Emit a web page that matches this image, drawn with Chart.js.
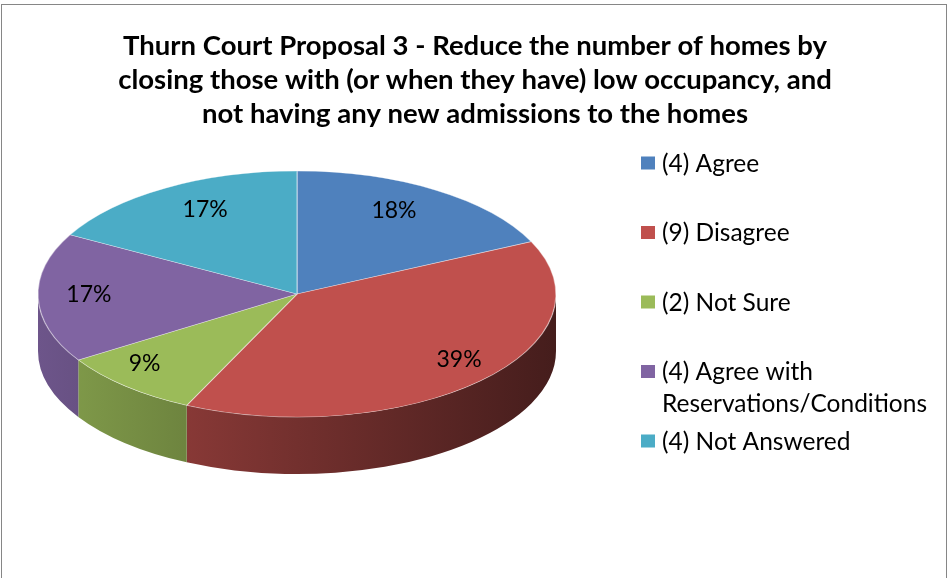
<!DOCTYPE html>
<html>
<head>
<meta charset="utf-8">
<title>Thurn Court Proposal 3</title>
<script src="https://cdn.jsdelivr.net/npm/chart.js@4.4.0/dist/chart.umd.min.js"></script>
<style>
  html, body { margin: 0; padding: 0; background: #fff; }
  #wrap { width: 950px; height: 578px; position: relative; }
</style>
</head>
<body>
<div id="wrap"><canvas id="pieChart"></canvas></div>
<script>
// Survey responses for proposal 3
const titleLines = [
  'Thurn Court Proposal 3 - Reduce the number of homes by',
  'closing those with (or when they have) low occupancy, and',
  'not having any new admissions to the homes'
];
const categories = ['Agree', 'Disagree', 'Not Sure', 'Agree with Reservations/Conditions', 'Not Answered'];
const counts = [4, 9, 2, 4, 4];
const percentages = [18, 39, 9, 17, 17];
const sliceColors = ['#4F81BD', '#C0504D', '#9BBB59', '#8064A2', '#4BACC6'];

const TILT = 0.475;      // how flat the pie top looks
const DEPTH = 57;        // thickness of the pie edge

function shade(hex, f) {
  const n = parseInt(hex.slice(1), 16);
  const r = Math.round(((n >> 16) & 255) * f);
  const g = Math.round(((n >> 8) & 255) * f);
  const b = Math.round((n & 255) * f);
  return 'rgb(' + r + ',' + g + ',' + b + ')';
}

// the pie top is an ellipse spanning opts.left..opts.right, hanging from the chart area top
function ellipseOf(chart, opts) {
  const rx = (opts.right - opts.left) / 2;
  const ry = rx * TILT;
  return { x: opts.left + rx, y: chart.chartArea.top + ry, rx: rx, ry: ry };
}

function wrapText(ctx, text, maxWidth) {
  const words = text.split(' ');
  const lines = [];
  let line = '';
  words.forEach(w => {
    const test = line ? line + ' ' + w : w;
    if (line && ctx.measureText(test).width > maxWidth) {
      lines.push(line);
      line = w;
    } else {
      line = test;
    }
  });
  lines.push(line);
  return lines;
}

// white background + grey frame round the whole chart
const frame = {
  id: 'frame',
  beforeDraw(chart) {
    const ctx = chart.ctx;
    ctx.save();
    ctx.fillStyle = '#fff';
    ctx.fillRect(0, 0, chart.width, chart.height);
    ctx.strokeStyle = '#868686';
    ctx.lineWidth = 1;
    ctx.strokeRect(1.5, 4.5, 945, chart.height + 20);
    ctx.restore();
  }
};

// fake 3D: draw the edge, then squash the round pie into an ellipse
const pie3d = {
  id: 'pie3d',
  beforeDatasetsDraw(chart, args, opts) {
    const ctx = chart.ctx;
    const e = ellipseOf(chart, opts);
    const arcs = chart.getDatasetMeta(0).data;

    // only the front half of the edge (angles 0..PI) is visible
    arcs.forEach((arc, i) => {
      const a0 = Math.max(arc.startAngle, 0);
      const a1 = Math.min(arc.endAngle, Math.PI);
      if (a1 <= a0) return;
      const grad = ctx.createLinearGradient(e.x - e.rx, 0, e.x + e.rx, 0);
      grad.addColorStop(0, shade(sliceColors[i], 0.85));
      grad.addColorStop(0.5, shade(sliceColors[i], 0.6));
      grad.addColorStop(1, shade(sliceColors[i], 0.36));
      ctx.beginPath();
      ctx.ellipse(e.x, e.y, e.rx, e.ry, 0, a0, a1);
      ctx.ellipse(e.x, e.y + DEPTH, e.rx, e.ry, 0, a1, a0, true);
      ctx.closePath();
      ctx.fillStyle = grad;
      ctx.fill();
    });

    const p = arcs[0];
    const r = p.outerRadius;
    ctx.save();
    ctx.translate(e.x, e.y);
    ctx.scale(e.rx / r, e.ry / r);
    ctx.translate(-p.x, -p.y);
  },
  afterDatasetsDraw(chart, args, opts) {
    const ctx = chart.ctx;
    ctx.restore();

    // percentage labels; front slices sit further out than the back ones
    const e = ellipseOf(chart, opts);
    const arcs = chart.getDatasetMeta(0).data;
    ctx.save();
    ctx.font = opts.labelFont;
    ctx.fillStyle = '#000';
    ctx.textAlign = 'center';
    ctx.textBaseline = 'middle';
    arcs.forEach((arc, i) => {
      const mid = (arc.startAngle + arc.endAngle) / 2;
      const fx = 0.8 + 0.12 * Math.sin(mid);
      const x = e.x + Math.cos(mid) * e.rx * fx;
      const y = e.y + Math.sin(mid) * e.ry * 0.78 - 2;
      ctx.fillText(percentages[i] + '%', x, y);
    });
    ctx.restore();
  }
};

// legend on the right, items evenly spaced, long names wrapped
const sideLegend = {
  id: 'sideLegend',
  afterDraw(chart, args, opts) {
    const ctx = chart.ctx;
    ctx.save();
    ctx.font = opts.font;
    ctx.textBaseline = 'middle';
    categories.forEach((name, i) => {
      const y = opts.top + i * opts.step;
      ctx.fillStyle = sliceColors[i];
      ctx.fillRect(opts.x, y - 6.5, 14, 13);
      ctx.fillStyle = '#000';
      const lines = wrapText(ctx, '(' + counts[i] + ') ' + name, opts.maxWidth);
      lines.forEach((line, j) => ctx.fillText(line, opts.x + 21, y + 1 + j * opts.lineHeight));
    });
    ctx.restore();
  }
};

const ctx = document.getElementById('pieChart').getContext('2d');
const pieChart = new Chart(ctx, {
  type: 'pie',
  data: {
    labels: categories,
    datasets: [{
      data: percentages,
      backgroundColor: sliceColors,
      borderColor: 'rgba(255,255,255,0.45)',
      borderWidth: 1,
      clip: false
    }]
  },
  options: {
    responsive: true,
    maintainAspectRatio: false,
    animation: false,
    layout: {
      padding: { left: 0, right: 0, top: 0, bottom: 20 }
    },
    plugins: {
      legend: { display: false },
      tooltip: { enabled: false },
      title: {
        display: true,
        text: titleLines,
        color: '#000',
        font: { family: 'Lato', size: 27.5, weight: 'bold', lineHeight: '34px' },
        padding: { top: 29, bottom: 40 }
      },
      pie3d: {
        left: 38,
        right: 556,
        labelFont: '23px Lato'
      },
      sideLegend: {
        x: 641,
        top: 163,
        step: 69.5,
        lineHeight: 32,
        maxWidth: 285,
        font: '24.5px Lato'
      }
    }
  },
  plugins: [frame, pie3d, sideLegend]
});
</script>
</body>
</html>
